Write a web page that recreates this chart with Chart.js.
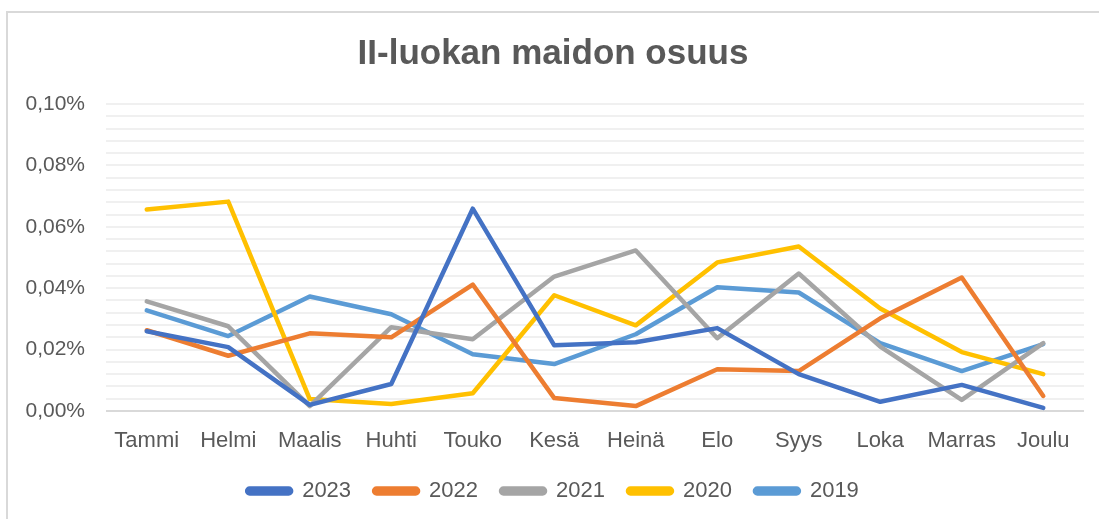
<!DOCTYPE html>
<html>
<head>
<meta charset="utf-8">
<script src="https://cdn.jsdelivr.net/npm/chart.js@4.4.0/dist/chart.umd.min.js"></script>
<style>
  html, body { margin: 0; padding: 0; background: #fff; }
  #frame { position: absolute; left: 6px; top: 11px; width: 1200px; height: 600px;
           border-top: 2px solid #d9d9d9; border-left: 2px solid #d9d9d9; }
  #wrap { position: absolute; left: 0; top: 0; width: 1099px; height: 519px; }
</style>
</head>
<body>
<div id="frame"></div>
<div id="wrap"><canvas id="chart"></canvas></div>
<script>
// months
const months = ["Tammi", "Helmi", "Maalis", "Huhti", "Touko", "Kesä", "Heinä", "Elo", "Syys", "Loka", "Marras", "Joulu"];

// share of class II milk, in percent
const y2023 = [0.026, 0.0208, 0.002, 0.0088, 0.0659, 0.0214, 0.0224, 0.027, 0.012, 0.003, 0.0085, 0.001];
const y2022 = [0.0263, 0.018, 0.0253, 0.024, 0.0412, 0.0042, 0.0016, 0.0136, 0.013, 0.0302, 0.0435, 0.0049];
const y2021 = [0.0357, 0.0276, 0.0016, 0.0273, 0.0234, 0.0438, 0.0523, 0.0237, 0.0448, 0.021, 0.0036, 0.0221];
const y2020 = [0.0656, 0.0682, 0.0039, 0.0023, 0.0058, 0.0377, 0.0279, 0.0484, 0.0536, 0.0334, 0.0192, 0.012];
const y2019 = [0.0328, 0.0244, 0.0373, 0.0315, 0.0185, 0.0153, 0.025, 0.0403, 0.0386, 0.0221, 0.013, 0.0218];

const grey = "#595959";
const font = "'Liberation Sans', Arial, sans-serif";

function line(label, data, color) {
  return {
    label, data,
    borderColor: color, backgroundColor: color,
    borderWidth: 4.5, pointRadius: 0, tension: 0,
    borderJoinStyle: "round", borderCapStyle: "round"
  };
}

new Chart(document.getElementById("chart"), {
  type: "line",
  data: {
    labels: months,
    datasets: [
      line("2023", y2023, "#4472c4"),
      line("2022", y2022, "#ed7d31"),
      line("2021", y2021, "#a5a5a5"),
      line("2020", y2020, "#ffc000"),
      line("2019", y2019, "#5b9bd5")
    ]
  },
  options: {
    responsive: true,
    maintainAspectRatio: false,
    animation: false,
    layout: { padding: { left: 22, right: 15, bottom: 7 } },
    plugins: {
      title: {
        display: true,
        text: "II-luokan maidon osuus",
        color: grey,
        font: { family: font, size: 35, weight: "bold" },
        padding: { top: 33, bottom: 29 }
      },
      legend: {
        position: "bottom",
        labels: {
          color: grey,
          font: { family: font, size: 22 },
          boxWidth: 44, boxHeight: 5,
          useBorderRadius: true, borderRadius: 2.5,
          padding: 23
        }
      },
      tooltip: { enabled: false }
    },
    scales: {
      x: {
        offset: true,
        grid: { display: false },
        border: { display: false },
        ticks: { color: grey, font: { family: font, size: 22 }, padding: 9, maxRotation: 0, autoSkip: false },
        afterFit: (s) => { s.height = 46; }
      },
      y: {
        min: 0, max: 0.1,
        border: { display: false },
        grid: {
          drawTicks: false,
          lineWidth: 2,
          color: (c) => c.tick && c.tick.value === 0 ? "#d9d9d9" : "#f0f0f0"
        },
        ticks: {
          stepSize: 0.004,
          padding: 21,
          color: grey,
          font: { family: font, size: 21 },
          autoSkip: false,
          callback: (v) => {
            const k = v / 0.02;
            if (Math.abs(k - Math.round(k)) > 1e-6) return "";
            return v.toFixed(2).replace(".", ",") + "%";
          }
        },
        afterFit: (s) => { s.width = 84; }
      }
    }
  }
});
</script>
</body>
</html>
